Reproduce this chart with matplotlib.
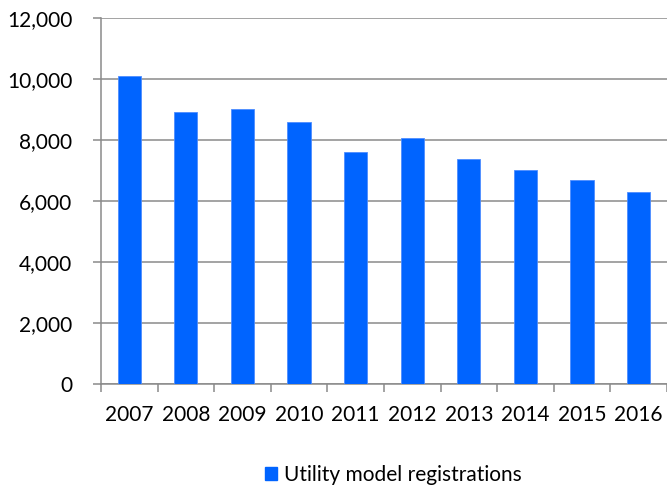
import matplotlib

matplotlib.use("Agg")
import matplotlib.pyplot as plt
import numpy as np
from matplotlib.patches import Patch
from matplotlib.ticker import FuncFormatter, FixedLocator

years = ["2007", "2008", "2009", "2010", "2011", "2012", "2013", "2014", "2015", "2016"]
registrations = [10100, 8920, 9020, 8590, 7600, 8070, 7370, 7020, 6690, 6290]
series_name = "Utility model registrations"

BAR = "#0064FF"
GRID = "#8a8a8a"
FS = 15

plt.rcParams["font.family"] = ["Lato", "DejaVu Sans"]

fig = plt.figure(figsize=(6.67, 4.9), dpi=100)
ax = fig.add_axes([0.1514, 0.2163, 0.8486, 0.747])

x = np.arange(len(years))
ax.bar(x, registrations, width=0.41, color=BAR, edgecolor="#4d8dff", linewidth=0.6, zorder=3)

ax.set_xlim(-0.5, len(years) - 0.5)
ax.set_ylim(0, 12000)
ax.set_yticks(np.arange(0, 12001, 2000))
ax.yaxis.set_major_formatter(FuncFormatter(lambda v, _: f"{int(v):,}"))
ax.set_xticks(x)
ax.set_xticklabels(years)
ax.xaxis.set_minor_locator(FixedLocator(np.arange(-0.5, len(years), 1.0)))

ax.grid(axis="y", color=GRID, linewidth=1.1, zorder=0)
for side in ("top", "right"):
    ax.spines[side].set_visible(False)
for side in ("left", "bottom"):
    ax.spines[side].set_color(GRID)
    ax.spines[side].set_linewidth(1.1)

ax.tick_params(axis="y", length=6, width=1.1, color=GRID, labelsize=FS, pad=14.5)
ax.tick_params(axis="x", which="major", length=0, labelsize=FS, pad=15)
ax.tick_params(axis="x", which="minor", length=6, width=1.1, color=GRID)

handle = Patch(facecolor=BAR, edgecolor=BAR)
fig.legend([handle], [series_name], loc="center", bbox_to_anchor=(0.59, 0.031),
           frameon=False, fontsize=FS, handlelength=0.55, handleheight=0.55,
           handletextpad=0.35)

fig.savefig("out.png", dpi=100)
